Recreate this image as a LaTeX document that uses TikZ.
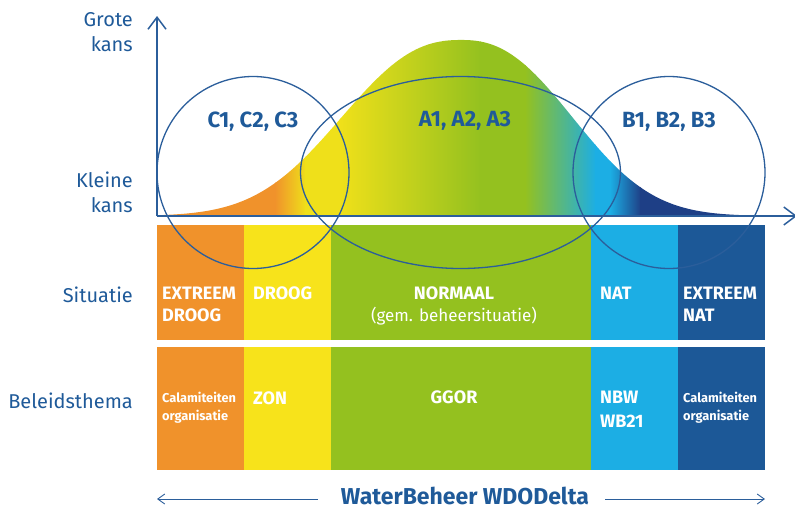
\documentclass[tikz,border=0pt]{standalone}
\usepackage{fontspec}
\setmainfont{Fira Sans}
\usetikzlibrary{arrows.meta,shapes.geometric}
\definecolor{cOrange}{HTML}{F0922B}
\definecolor{cYellow}{HTML}{F7E31B}
\definecolor{cBellYellow}{HTML}{EFE01A}
\definecolor{cGreen}{HTML}{94C11F}
\definecolor{cLight}{HTML}{1CAEE4}
\definecolor{cDark}{HTML}{1C5897}
\definecolor{cBellDark}{HTML}{1E3F86}
\definecolor{cText}{HTML}{1F5A99}
\definecolor{cLine}{HTML}{2B5E9B}
\begin{document}
\begin{tikzpicture}[x=1pt,y=-1pt,
  cell/.style={draw=none,inner sep=0,outer sep=0,minimum width=#1,anchor=north west},
  rowone/.style={minimum height=115},
  rowtwo/.style={minimum height=123},
  ring/.style={draw=cLine,line width=1.3pt,inner sep=0},
  ringlabel/.style={text=cText,font=\fontsize{22}{26}\selectfont\bfseries,inner sep=0,anchor=north},
  axislabel/.style={text=cText,font=\fontsize{20}{25}\selectfont,inner sep=0,align=right},
  barbig/.style={text=white,font=\fontsize{18}{22}\selectfont\bfseries,inner sep=0,anchor=north west,align=left},
  barsmall/.style={text=white,font=\fontsize{12.8}{18}\selectfont\bfseries,inner sep=0,anchor=north west,align=left},
  axis/.style={draw=cLine,line width=1.5pt,-{Straight Barb[length=12pt,width=18pt]}},
  thinarrow/.style={draw=cLine,line width=0.9pt,-{Straight Barb[length=7pt,width=10pt]}}
]
\useasboundingbox (0,0) rectangle (795,509);

% bell curve with gradient
\begin{scope}
\clip (157,216) -- plot[domain=157:765,samples=200,smooth] (\x,{216-176*exp(-pow(abs(\x-461)/(\x<461 ? 150 : 140),2.4))}) -- (765,216) -- cycle;
\fill[cOrange] (150,30) rectangle (276,217);
\shade[left color=cOrange,right color=cBellYellow] (275,30) rectangle (306,217);
\fill[cBellYellow] (305,30) rectangle (341,217);
\shade[left color=cBellYellow,right color=cGreen] (340,30) rectangle (481,217);
\fill[cGreen] (480,30) rectangle (526,217);
\shade[left color=cGreen,right color=cLight] (525,30) rectangle (596,217);
\fill[cLight] (595,30) rectangle (611,217);
\shade[left color=cLight,right color=cBellDark] (610,30) rectangle (641,217);
\fill[cBellDark] (640,30) rectangle (770,217);
\end{scope}

% bars
\node[cell=87,rowone,fill=cOrange] (s1) at (157,225) {};
\node[cell=87,rowone,fill=cYellow] (s2) at (244,225) {};
\node[cell=260,rowone,fill=cGreen] (s3) at (331,225) {};
\node[cell=87,rowone,fill=cLight] (s4) at (591,225) {};
\node[cell=87,rowone,fill=cDark] (s5) at (678,225) {};
\node[cell=87,rowtwo,fill=cOrange] (b1) at (157,347) {};
\node[cell=87,rowtwo,fill=cYellow] (b2) at (244,347) {};
\node[cell=260,rowtwo,fill=cGreen] (b3) at (331,347) {};
\node[cell=87,rowtwo,fill=cLight] (b4) at (591,347) {};
\node[cell=87,rowtwo,fill=cDark] (b5) at (678,347) {};

% axes
\coordinate (origin) at (157,216);
\coordinate (ytop) at (157,16);
\coordinate (xend) at (797,216);
\draw[axis] (origin) -- (ytop);
\draw[axis] (origin) -- (xend);

% circles
\node[ring,circle,minimum size=192] (cC) at (253,172.5) {};
\node[ring,ellipse,minimum width=320,minimum height=192] (cA) at (460.5,172.5) {};
\node[ring,circle,minimum size=192] (cB) at (669,172.5) {};
\node[ringlabel] (lC) at (253,112) {C1, C2, C3};
\node[ringlabel] (lA) at (465,111) {A1, A2, A3};
\node[ringlabel] (lB) at (669,112) {B1, B2, B3};

% axis labels
\node[axislabel,anchor=north east] (grote) at (133,12) {Grote\\kans};
\node[axislabel,anchor=north east] (kleine) at (133,172) {Kleine\\kans};
\node[axislabel,anchor=base east] (situatie) at (133,302) {Situatie};
\node[axislabel,anchor=base east] (beleid) at (133,408) {Beleidsthema};

% row 1 texts
\node[barbig] (t1) at (162,287) {EXTREEM\\DROOG};
\node[barbig] (t2) at (253,287) {DROOG};
\node[barbig,anchor=north,align=center] (t3) at (454,287) {NORMAAL\\{\mdseries\fontsize{17}{22}\selectfont(gem. beheersituatie)}};
\node[barbig] (t4) at (600,287) {NAT};
\node[barbig] (t5) at (683,287) {EXTREEM\\NAT};

% row 2 texts
\node[barsmall] (u1) at (162,392) {Calamiteiten\\organisatie};
\node[barbig] (u2) at (253,392) {ZON};
\node[barbig,anchor=north] (u3) at (454,391) {GGOR};
\node[barbig,font=\fontsize{18}{24}\selectfont\bfseries] (u4) at (600,391) {NBW\\WB21};
\node[barsmall] (u5) at (683,392) {Calamiteiten\\organisatie};

% bottom
\node[text=cText,font=\fontsize{23}{27}\selectfont\bfseries,inner sep=0,text depth=0pt,anchor=base] (wb) at (465,504) {WaterBeheer WDODelta};
\coordinate (la) at (318,499);
\coordinate (lb) at (157,499);
\coordinate (ra) at (605,499);
\coordinate (rb) at (765,499);
\draw[thinarrow] (la) -- (lb);
\draw[thinarrow] (ra) -- (rb);
\end{tikzpicture}
\end{document}
